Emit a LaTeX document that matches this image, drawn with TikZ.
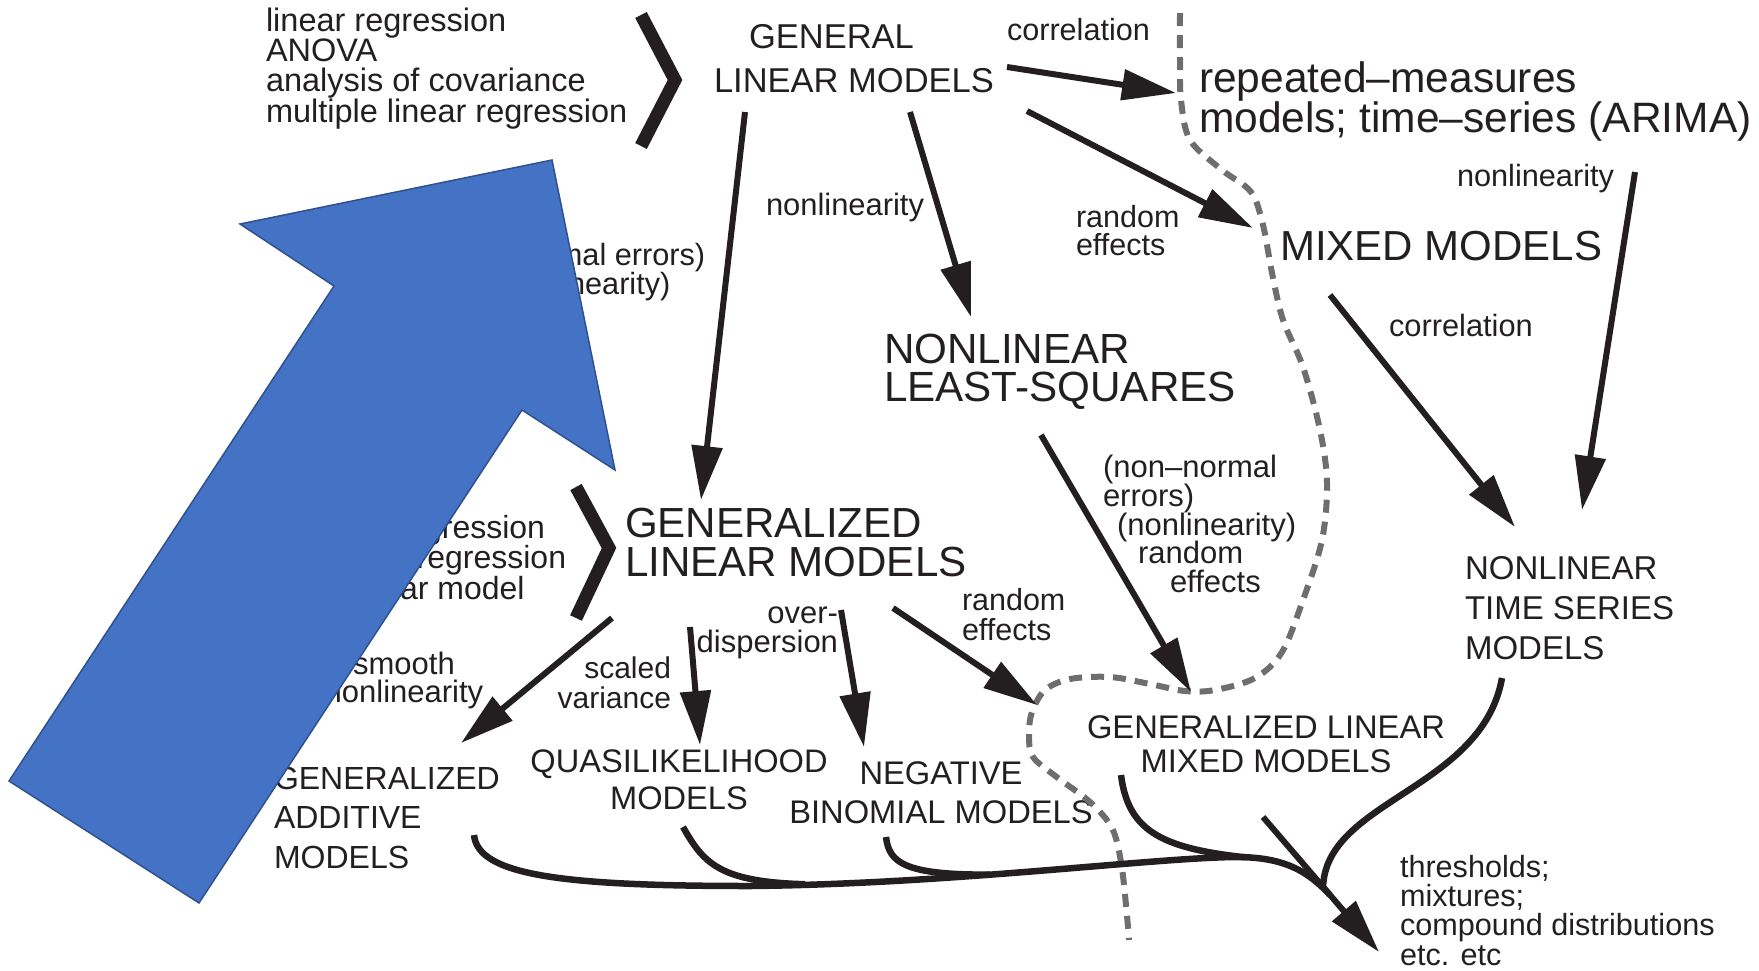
\documentclass[tikz,border=0pt]{standalone}
\usepackage{fontspec}
\setmainfont{Liberation Sans}
\usetikzlibrary{arrows.meta}
\definecolor{ink}{RGB}{35,31,32}
\definecolor{sepgray}{RGB}{110,110,112}
\definecolor{bluefill}{RGB}{68,114,196}
\definecolor{blueedge}{RGB}{47,82,143}
\newcommand{\fs}[2]{\fontsize{#1}{#2}\selectfont\lineskiplimit=-100pt\relax}
\begin{document}
\begin{tikzpicture}[x=1pt,y=-1pt,
  lbl/.style={inner sep=0pt,outer sep=0pt,text=ink},
  conn/.style={draw=ink,line width=6pt,-{Triangle[length=54pt,width=30pt]}},
  branch/.style={draw=ink,line width=6.5pt},
  chev/.style={draw=ink,line width=13pt,miter limit=10},
  sep/.style={draw=sepgray,line width=6pt,dash pattern=on 13pt off 9pt},
  bigarrow/.style={fill=bluefill,draw=blueedge,line width=1.5pt,line join=miter}]
\useasboundingbox (0,0) rectangle (1759,970);

% ---------- labels ----------
\node[lbl,anchor=north west,align=left,font=\fs{32.5}{30.2}] (lmlist) at (266,8) {linear regression\\ANOVA\\analysis of covariance\\multiple linear regression};
\node[lbl,anchor=north west,align=left,font=\fs{34.5}{43.4}] (genlm) at (714,24.6) {\hspace*{35pt}GENERAL\\LINEAR MODELS};
\node[lbl,anchor=base west,font=\fs{30.6}{36}] (corrA) at (1007,40.7) {correlation};
\node[lbl,anchor=north west,align=left,font=\fs{42.5}{40}] (rm) at (1199,61.6) {repeated–measures\\models; time–series (ARIMA)};
\node[lbl,anchor=base west,font=\fs{42}{48}] (mixed) at (1280,260) {MIXED MODELS};
\node[lbl,anchor=north west,align=left,font=\fs{30.5}{28}] (reA) at (1076,205.2) {random\\effects};
\node[lbl,anchor=base west,font=\fs{30.9}{36}] (nlA) at (766,215) {nonlinearity};
\node[lbl,anchor=base west,font=\fs{30.7}{36}] (nlB) at (1457,186.7) {nonlinearity};
\node[lbl,anchor=north west,align=left,font=\fs{42.2}{38.2}] (nls) at (884,334.3) {NONLINEAR\\LEAST-SQUARES};
\node[lbl,anchor=base west,font=\fs{30.8}{36}] (corrB) at (1389,336) {correlation};
\node[lbl,anchor=north west,align=left,font=\fs{33}{40}] (nlts) at (1465,556.4) {NONLINEAR\\TIME SERIES\\MODELS};
\node[lbl,anchor=north west,align=left,font=\fs{30.7}{28.8}] (nnA) at (434,243.6) {(non–normal errors)\\\hspace*{59pt}(nonlinearity)};
\node[lbl,anchor=north west,align=left,font=\fs{32}{30.5}] (glmlist) at (289,515) {logistic regression\\\hspace*{5pt}Poisson regression\\\hspace*{8pt}log-linear model};
\node[lbl,anchor=north west,align=left,font=\fs{42.1}{38.4}] (glm) at (625,508.2) {GENERALIZED\\LINEAR MODELS};
\node[lbl,anchor=north,align=center,font=\fs{31}{28.2}] (smooth) at (404,652.3) {smooth\\nonlinearity};
\node[lbl,anchor=north east,align=right,font=\fs{30}{30}] (scaled) at (671,656.5) {scaled\\variance};
\node[lbl,anchor=north east,align=right,font=\fs{31}{28.2}] (overd) at (838,607.3) {over-\\dispersion};
\node[lbl,anchor=north west,align=left,font=\fs{30.5}{30}] (reB) at (962,588.2) {random\\effects};
\node[lbl,anchor=north west,align=left,font=\fs{31}{28.6}] (nnB) at (1103,455.4) {(non–normal\\errors)\\\hspace*{14pt}(nonlinearity)\\\hspace*{35pt}random\\\hspace*{67pt}effects};
\node[lbl,anchor=north west,align=left,font=\fs{32}{39.5}] (gam) at (274,767.1) {GENERALIZED\\ADDITIVE\\MODELS};
\node[lbl,anchor=north,align=center,font=\fs{32.6}{37}] (ql) at (679,749.7) {QUASILIKELIHOOD\\MODELS};
\node[lbl,anchor=north,align=center,font=\fs{32.7}{39}] (nb) at (941,761.6) {NEGATIVE\\BINOMIAL MODELS};
\node[lbl,anchor=north,align=center,font=\fs{32.7}{34}] (glmm) at (1266,715.6) {GENERALIZED LINEAR\\MIXED MODELS};
\node[lbl,anchor=north west,align=left,font=\fs{30.6}{29.3}] (thr) at (1400,855.1) {thresholds;\\mixtures;\\compound distributions\\etc. etc};

% ---------- chevrons ----------
\draw[chev] (641,15) -- (675,80) -- (641,146);
\draw[chev] (576,487) -- (609,548) -- (576,618);

% ---------- dashed separator ----------
\draw[sep] plot[smooth,tension=0.55] coordinates {(1180,13) (1180,60) (1181,100) (1190,140) (1222,170) (1251,192) (1263,225) (1272,273) (1283,320) (1303,367) (1320,430) (1327,483) (1322,540) (1303,600) (1282,652) (1255,678) (1215,690) (1185,691) (1150,684) (1110,677) (1070,679) (1045,690) (1032,712) (1029,735) (1033,757) (1058,778) (1090,802) (1112,828) (1121,862) (1126,905) (1129,940)};

% ---------- connector end points ----------
\coordinate (glmOut1) at (1007,67);   \coordinate (rmIn) at (1176,93);
\coordinate (glmOut2) at (1027,111);  \coordinate (mixIn) at (1253,228);
\coordinate (glmOut3) at (910,112);   \coordinate (nlsIn) at (971,317);
\coordinate (glmOut4) at (745,112);   \coordinate (gzIn) at (701,500);
\coordinate (mixOut) at (1330,295);   \coordinate (ntsIn1) at (1515,527);
\coordinate (rmOut) at (1635,172);    \coordinate (ntsIn2) at (1582,510);
\coordinate (nlsOut) at (1041,435);   \coordinate (glmmIn1) at (1191,692);
\coordinate (gzOut1) at (612,618);    \coordinate (gamIn) at (461,743);
\coordinate (gzOut2) at (690,627);    \coordinate (qlIn) at (700,745);
\coordinate (gzOut3) at (841,610);    \coordinate (nbIn) at (864,747);
\coordinate (gzOut4) at (893,608);    \coordinate (glmmIn2) at (1037,705);
\coordinate (merge) at (1263,817);    \coordinate (thrIn) at (1379,952);
\coordinate (gamOut) at (474,835);    \coordinate (qlOut) at (683,827);
\coordinate (nbOut) at (886,837);     \coordinate (glmmOut) at (1121,775);
\coordinate (ntsOut) at (1502,678);   \coordinate (join) at (1330,895);

% ---------- arrows ----------
\draw[conn] (glmOut1) -- (rmIn);
\draw[conn] (glmOut2) -- (mixIn);
\draw[conn] (glmOut3) -- (nlsIn);
\draw[conn] (glmOut4) -- (gzIn);
\draw[conn] (mixOut) -- (ntsIn1);
\draw[conn] (rmOut) -- (ntsIn2);
\draw[conn] (nlsOut) -- (glmmIn1);
\draw[conn] (gzOut1) -- (gamIn);
\draw[conn] (gzOut2) -- (qlIn);
\draw[conn] (gzOut3) -- (nbIn);
\draw[conn] (gzOut4) -- (glmmIn2);
\draw[conn] (merge) -- (thrIn);

% ---------- merging branches ----------
\draw[branch] (gamOut) .. controls (478,875) and (560,886) .. (750,886)
  .. controls (950,884) and (1150,858) .. (1235,857)
  .. controls (1280,857) and (1305,868) .. (join);
\draw[branch] (qlOut) .. controls (703,862) and (718,882) .. (805,884.2);
\draw[branch] (nbOut) .. controls (889,863) and (905,875) .. (990,874.6);
\draw[branch] (glmmOut) .. controls (1128,830) and (1160,848) .. (1245,857.3);
\draw[branch] (ntsOut) .. controls (1482,790) and (1325,800) .. (1323,888);

% ---------- big blue arrow ----------
\draw[bigarrow] (552,160) -- (615,470) -- (522,410) -- (199,903) -- (9,781) -- (334,286) -- (240,224) -- cycle;
\end{tikzpicture}
\end{document}
